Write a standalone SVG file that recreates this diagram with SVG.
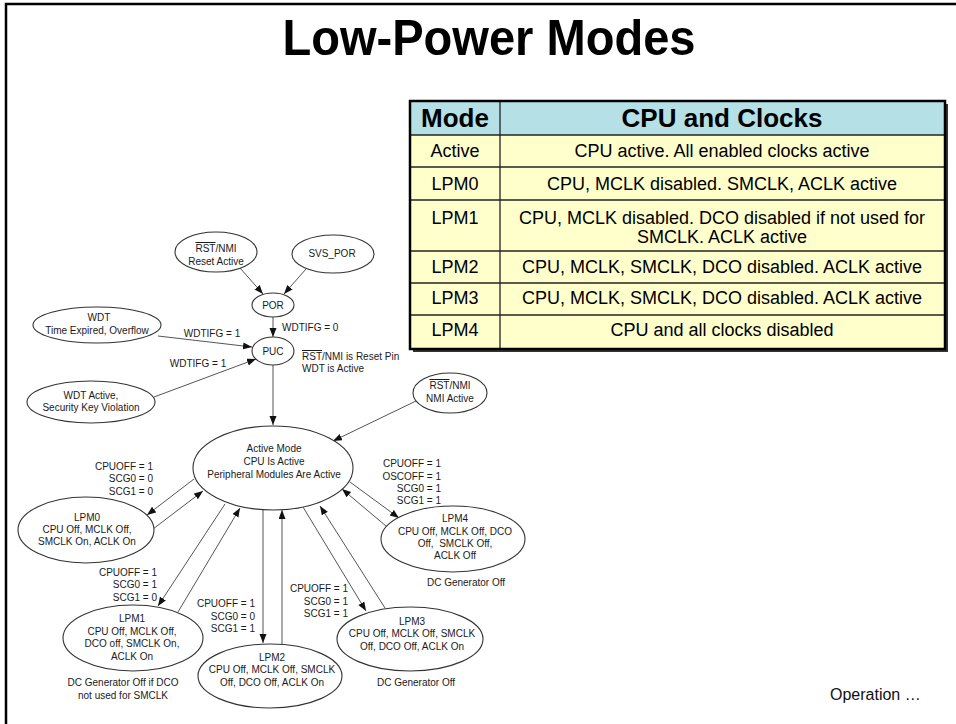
<svg xmlns="http://www.w3.org/2000/svg" width="956" height="724" viewBox="0 0 956 724">
<defs>
<marker id="ah" markerUnits="userSpaceOnUse" markerWidth="10" markerHeight="8" refX="9" refY="3.5" orient="auto">
<path d="M0,0 L9,3.5 L0,7 z" fill="#111"/>
</marker>
<style>
.n ellipse{fill:#fff;stroke:#333;stroke-width:1.1}
.t{font-family:"Liberation Sans",Arial,sans-serif;font-size:10px;fill:#1a1a1a;text-anchor:middle}
.r{font-family:"Liberation Sans",Arial,sans-serif;font-size:10px;fill:#1a1a1a;text-anchor:end}
.l{font-family:"Liberation Sans",Arial,sans-serif;font-size:10px;fill:#1a1a1a;text-anchor:start}
.c line{stroke:#555;stroke-width:1;marker-end:url(#ah)}
.tb{font-family:"Liberation Sans",Arial,sans-serif;font-size:18px;fill:#000;text-anchor:middle}
.th{font-family:"Liberation Sans",Arial,sans-serif;font-size:26px;font-weight:bold;fill:#000;text-anchor:middle}
.ov{text-decoration:overline}
</style>
</defs>
<rect x="0" y="0" width="956" height="724" fill="#fff"/>
<rect x="6" y="4" width="980" height="760" fill="none" stroke="#000" stroke-width="2.5"/>
<text x="489" y="55" font-family="Liberation Sans,Arial,sans-serif" font-size="50" font-weight="bold" text-anchor="middle" textLength="413" lengthAdjust="spacingAndGlyphs">Low-Power Modes</text>

<g id="table">
<rect x="413" y="104" width="535" height="248" fill="#333"/>
<rect x="410" y="101" width="535" height="248" fill="#ffffcc"/>
<rect x="410" y="101" width="535" height="34" fill="#b4e0e6"/>
<g stroke="#222" stroke-width="1.3">
<line x1="410" y1="135" x2="945" y2="135"/>
<line x1="410" y1="167" x2="945" y2="167"/>
<line x1="410" y1="200" x2="945" y2="200"/>
<line x1="410" y1="251" x2="945" y2="251"/>
<line x1="410" y1="283" x2="945" y2="283"/>
<line x1="410" y1="315" x2="945" y2="315"/>
<line x1="500" y1="101" x2="500" y2="349"/>
</g>
<rect x="410" y="101" width="535" height="248" fill="none" stroke="#000" stroke-width="2.5"/>
<text class="th" x="455" y="127">Mode</text>
<text class="th" x="722" y="127">CPU and Clocks</text>
<text class="tb" x="455" y="157">Active</text>
<text class="tb" x="722" y="157">CPU active. All enabled clocks active</text>
<text class="tb" x="455" y="190">LPM0</text>
<text class="tb" x="722" y="190">CPU, MCLK disabled. SMCLK, ACLK active</text>
<text class="tb" x="455" y="224">LPM1</text>
<text class="tb" x="722" y="224">CPU, MCLK disabled. DCO disabled if not used for</text>
<text class="tb" x="722" y="243">SMCLK. ACLK active</text>
<text class="tb" x="455" y="273">LPM2</text>
<text class="tb" x="722" y="273">CPU, MCLK, SMCLK, DCO disabled. ACLK active</text>
<text class="tb" x="455" y="304">LPM3</text>
<text class="tb" x="722" y="304">CPU, MCLK, SMCLK, DCO disabled. ACLK active</text>
<text class="tb" x="455" y="336">LPM4</text>
<text class="tb" x="722" y="336">CPU and all clocks disabled</text>
</g>

<g id="connectors" class="c">
<line x1="240" y1="268" x2="263" y2="294"/>
<line x1="306" y1="269" x2="284" y2="294"/>
<line x1="273" y1="317" x2="273" y2="337"/>
<line x1="158" y1="336" x2="252" y2="347"/>
<line x1="154" y1="397" x2="256" y2="359"/>
<line x1="273" y1="365" x2="273" y2="425"/>
<line x1="416" y1="401" x2="333" y2="441"/>
<line x1="194" y1="479" x2="147" y2="515"/>
<line x1="153" y1="529" x2="203" y2="491"/>
<line x1="225" y1="504" x2="158" y2="606"/>
<line x1="178" y1="612" x2="240" y2="508"/>
<line x1="263" y1="509" x2="263" y2="643"/>
<line x1="282" y1="645" x2="282" y2="510"/>
<line x1="303" y1="507" x2="366" y2="611"/>
<line x1="385" y1="608" x2="320" y2="506"/>
<line x1="350" y1="482" x2="399" y2="518"/>
<line x1="386" y1="526" x2="342" y2="489"/>
</g>

<g id="edge-labels">
<text class="l" x="282" y="331">WDTIFG = 0</text>
<text class="t" x="212" y="337">WDTIFG = 1</text>
<text class="t" x="198" y="367">WDTIFG = 1</text>
<text class="l" x="302" y="360"><tspan class="ov">RST</tspan>/NMI is Reset Pin</text>
<text class="l" x="302" y="372">WDT is Active</text>
<text class="r" x="153" y="470">CPUOFF = 1</text>
<text class="r" x="153" y="482">SCG0 = 0</text>
<text class="r" x="153" y="495">SCG1 = 0</text>
<text class="r" x="157" y="576">CPUOFF = 1</text>
<text class="r" x="157" y="588">SCG0 = 1</text>
<text class="r" x="157" y="601">SCG1 = 0</text>
<text class="r" x="255" y="607">CPUOFF = 1</text>
<text class="r" x="255" y="620">SCG0 = 0</text>
<text class="r" x="255" y="632">SCG1 = 1</text>
<text class="r" x="348" y="592">CPUOFF = 1</text>
<text class="r" x="348" y="605">SCG0 = 1</text>
<text class="r" x="348" y="617">SCG1 = 1</text>
<text class="r" x="441" y="467">CPUOFF = 1</text>
<text class="r" x="441" y="480">OSCOFF = 1</text>
<text class="r" x="441" y="492">SCG0 = 1</text>
<text class="r" x="441" y="504">SCG1 = 1</text>
</g>

<g id="rst-reset" class="n"><ellipse cx="216" cy="252" rx="41" ry="20"/>
<text class="t" x="216" y="252"><tspan class="ov">RST</tspan>/NMI</text><text class="t" x="216" y="265">Reset Active</text></g>
<g id="svs-por" class="n"><ellipse cx="333" cy="254" rx="41" ry="19"/>
<text class="t" x="332" y="257">SVS_POR</text></g>
<g id="por" class="n"><ellipse cx="273" cy="305" rx="21" ry="12"/>
<text class="t" x="273" y="309">POR</text></g>
<g id="puc" class="n"><ellipse cx="273" cy="351" rx="21" ry="14"/>
<text class="t" x="273" y="355">PUC</text></g>
<g id="wdt-expired" class="n"><ellipse cx="97" cy="325" rx="64" ry="18"/>
<text class="t" x="99" y="321">WDT</text><text class="t" x="97" y="334">Time Expired, Overflow</text></g>
<g id="wdt-violation" class="n"><ellipse cx="91" cy="402" rx="64" ry="21"/>
<text class="t" x="91" y="399">WDT Active,</text><text class="t" x="91" y="411">Security Key Violation</text></g>
<g id="rst-nmi" class="n"><ellipse cx="450" cy="393" rx="37" ry="20"/>
<text class="t" x="450" y="389"><tspan class="ov">RST</tspan>/NMI</text><text class="t" x="450" y="402">NMI Active</text></g>
<g id="active" class="n"><ellipse cx="273" cy="468" rx="80" ry="42"/>
<text class="t" x="274" y="452">Active Mode</text><text class="t" x="274" y="465">CPU Is Active</text><text class="t" x="274" y="478">Peripheral Modules Are Active</text></g>
<g id="lpm0" class="n"><ellipse cx="86" cy="530" rx="68" ry="33"/>
<text class="t" x="87" y="521">LPM0</text><text class="t" x="87" y="533">CPU Off, MCLK Off,</text><text class="t" x="87" y="545">SMCLK On, ACLK On</text></g>
<g id="lpm1" class="n"><ellipse cx="133" cy="638" rx="70" ry="33"/>
<text class="t" x="132" y="622">LPM1</text><text class="t" x="132" y="635">CPU Off, MCLK Off,</text><text class="t" x="132" y="647">DCO off, SMCLK On,</text><text class="t" x="132" y="660">ACLK On</text>
<text class="t" x="123" y="686">DC Generator Off if DCO</text><text class="t" x="123" y="699">not used for SMCLK</text></g>
<g id="lpm2" class="n"><ellipse cx="270" cy="676" rx="72" ry="32"/>
<text class="t" x="272" y="661">LPM2</text><text class="t" x="272" y="673">CPU Off, MCLK Off, SMCLK</text><text class="t" x="272" y="686">Off, DCO Off, ACLK On</text></g>
<g id="lpm3" class="n"><ellipse cx="410" cy="639" rx="73" ry="32"/>
<text class="t" x="412" y="625">LPM3</text><text class="t" x="412" y="637">CPU Off, MCLK Off, SMCLK</text><text class="t" x="412" y="650">Off, DCO Off, ACLK On</text>
<text class="t" x="416" y="686">DC Generator Off</text></g>
<g id="lpm4" class="n"><ellipse cx="453" cy="539" rx="72" ry="33"/>
<text class="t" x="455" y="522">LPM4</text><text class="t" x="455" y="535">CPU Off, MCLK Off, DCO</text><text class="t" x="455" y="547" xml:space="preserve">Off,  SMCLK Off,</text><text class="t" x="455" y="559">ACLK Off</text>
<text class="t" x="466" y="586">DC Generator Off</text></g>

<text x="830" y="700" font-family="Liberation Sans,Arial,sans-serif" font-size="16" fill="#111">Operation …</text>
</svg>
